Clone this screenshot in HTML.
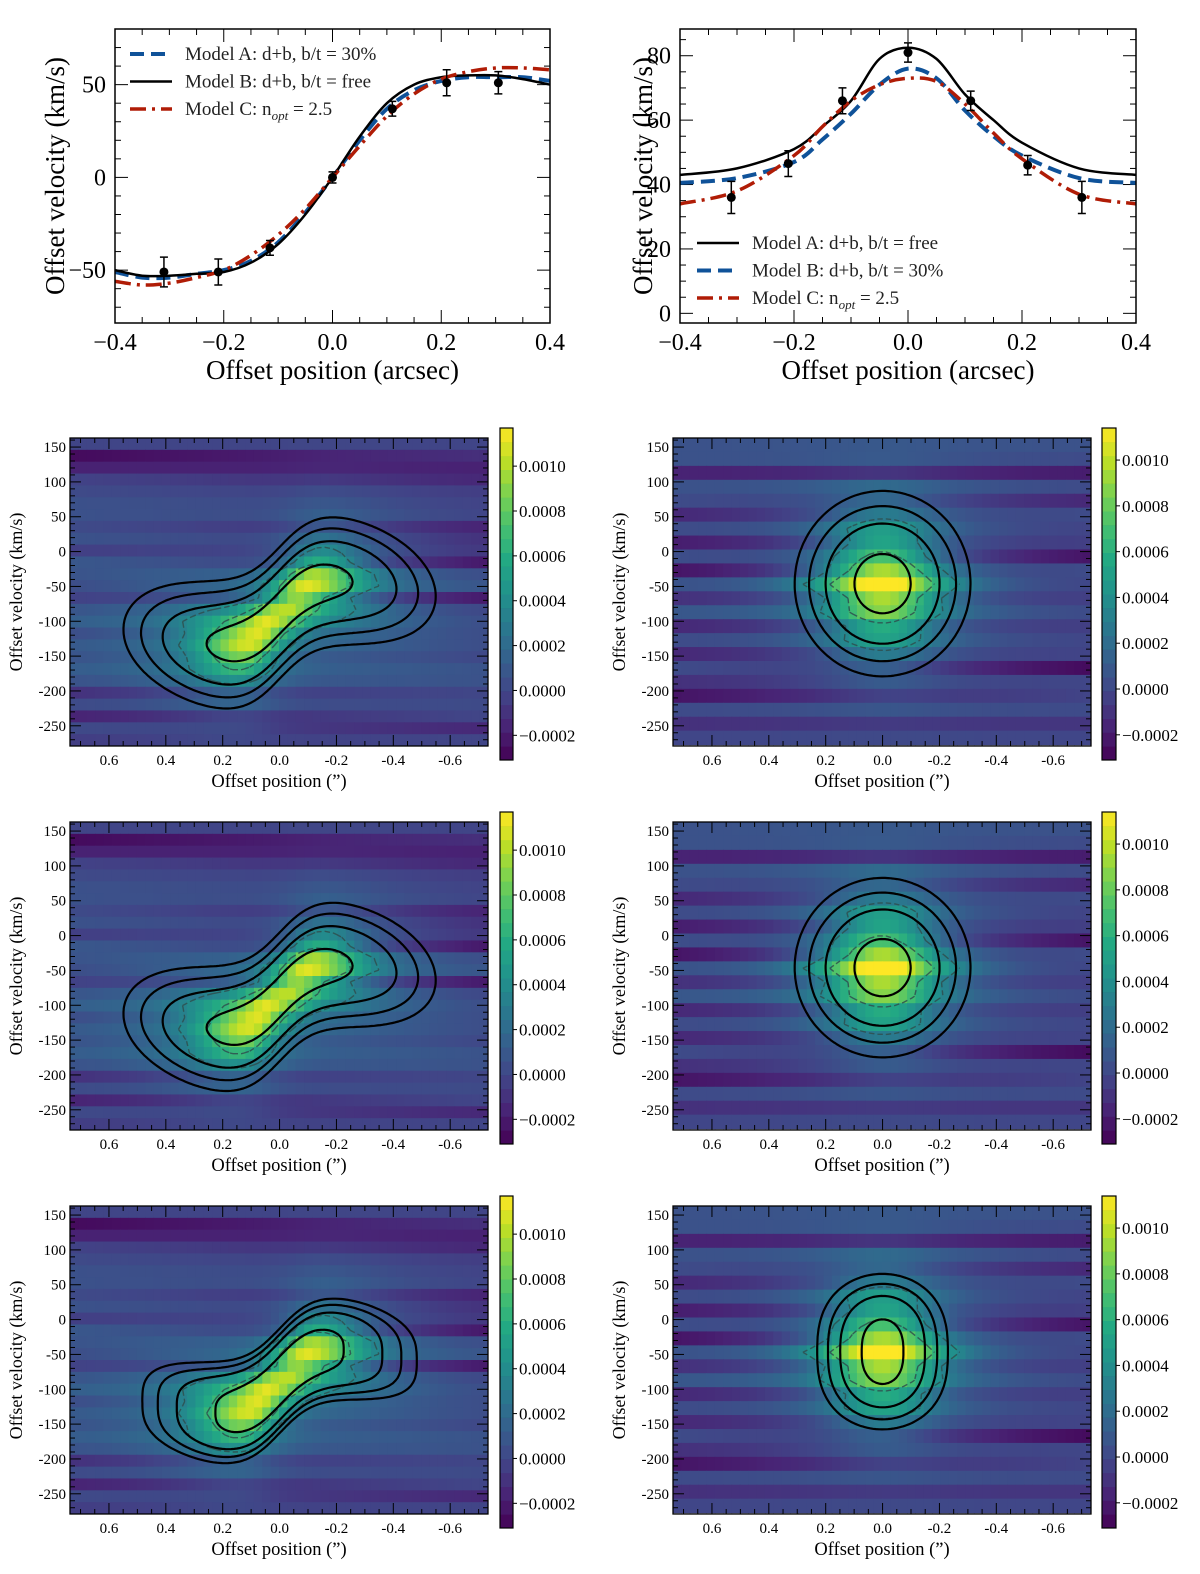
<!DOCTYPE html>
<html><head><meta charset="utf-8"><style>
html,body{margin:0;padding:0;background:#fff;}
svg{display:block;font-family:"Liberation Serif","DejaVu Serif",serif;}
</style></head><body>
<svg id="fig" width="1200" height="1574" viewBox="0 0 1200 1574" xmlns="http://www.w3.org/2000/svg"></svg>
<script>
// ---------- top-left rotation curve data ----------
const tlX = [-0.4,-0.35,-0.3,-0.25,-0.2,-0.15,-0.1,-0.05,0,0.05,0.1,0.15,0.2,0.25,0.3,0.35,0.4];
const tlModelA = [-51,-54,-54,-52,-50,-45,-35,-19,0,20,37,47,52,54,54,54,52];
const tlModelB = [-50,-53,-53,-52,-51,-46,-36,-20,0,22,40,50,54,55,55,53,50];
const tlModelC = [-56,-58,-57,-54,-50,-42,-31,-17,0,17,33,45,53,57,59,59,58];
const tlDataX = [-0.31,-0.21,-0.115,0,0.11,0.21,0.305];
const tlDataY = [-51,-51,-38,0,37,51,51];
const tlDataErr = [8,7,4,3,4,7,6];
const tlYTicks = [-50,0,50];
const tlXTicks = [-0.4,-0.2,0,0.2,0.4];
// ---------- top-right dispersion data ----------
const trX = [-0.4,-0.3,-0.2,-0.15,-0.1,-0.05,0,0.05,0.1,0.15,0.2,0.3,0.4];
const trModelA = [43,45,51,58,66,79,82.5,79,68,60,53,45,43];
const trModelB = [40.5,42,47,54,62,71,76,73,63,55,49,42,40.5];
const trModelC = [34,38,49,58,66,71,73,72,65,56,48,37,34];
const trDataX = [-0.31,-0.21,-0.115,0,0.11,0.21,0.305];
const trDataY = [36,46.5,66,81,66,46,36];
const trDataErr = [5,4,4,3,3,3,5];
const trYTicks = [0,20,40,60,80];
// ---------- PV diagram background per channel (1e-4 units), left edge / right edge ----------
const leftRowOffL = [0.3,-1.8,-1.0,0.2,0.5,0.8,0.8,0.5,0.8,0.0,1.0,0.8,0.5,0.0,0.8,1.2,0.5,1.0,0.8,1.2,0.8,-0.5,0.5,-1.0,0.5,0.0];
const leftRowOffR = [0.3,-0.5,-1.0,-0.8,0.0,0.2,0.3,-1.0,-0.5,-0.3,-1.5,0.5,0.8,-1.5,0.2,0.5,0.5,0.5,0.3,0.8,0.8,0.3,0.5,0.3,-0.8,0.3];
const rightRowOffL = [0.8,0.8,-1.0,0.8,0.5,-0.8,0.5,-1.2,0.6,-1.5,0.8,-0.5,1.0,-0.8,0.5,-0.8,0.5,-0.5,-1.5,0.5,-0.5,0.3];
const rightRowOffR = [0.8,0.5,-1.2,0.5,-0.8,0.5,0.2,0.0,-1.5,0.5,0.3,0.0,0.5,0.0,0.3,0.2,-1.8,0.3,0.2,0.5,-0.3,0.3];
const pvXTicks = [0.6,0.4,0.2,0.0,-0.2,-0.4,-0.6];
const pvYTicks = [150,100,50,0,-50,-100,-150,-200,-250];
const cbTicks = [-0.0002,0,0.0002,0.0004,0.0006,0.0008,0.0010];
const contourLevels = [0.1,0.2,0.38,0.79];
const dataLevels = [3.5,6.5];
// model params per row: [sx, sv, px, pv]
const leftModelParams = [[0.33,44,3,2],[0.33,43,3,2],[0.29,45,3,3]];
const rightModelParams = [[0.144,62,2,2],[0.144,60,2,2],[0.107,62,2,2.6]];

const NS='http://www.w3.org/2000/svg';
const svg=document.getElementById('fig');
function mk(tag,attrs,parent){const e=document.createElementNS(NS,tag);for(const k in attrs)e.setAttribute(k,attrs[k]);(parent||svg).appendChild(e);return e;}
function fmtMinus(s){return s.replace('-','\u2212');}

const VIR=['#440154','#482475','#414487','#355f8d','#2a788e','#21918c','#22a884','#44bf70','#7ad151','#bddf26','#fde725'];
function hex(h){return [parseInt(h.substr(1,2),16),parseInt(h.substr(3,2),16),parseInt(h.substr(5,2),16)];}
const VIRr=VIR.map(hex);
function viridis(t){t=Math.max(0,Math.min(1,t));const f=t*10,i=Math.min(9,Math.floor(f)),u=f-i;const a=VIRr[i],b=VIRr[i+1];return 'rgb('+a.map((v,k)=>Math.round(v+(b[k]-v)*u)).join(',')+')';}

// ---------- line panels ----------
function catmull(pts){let d='M'+pts[0][0].toFixed(1)+','+pts[0][1].toFixed(1);for(let i=0;i<pts.length-1;i++){const p0=pts[i-1]||pts[i],p1=pts[i],p2=pts[i+1],p3=pts[i+2]||p2;const c1=[p1[0]+(p2[0]-p0[0])/6,p1[1]+(p2[1]-p0[1])/6],c2=[p2[0]-(p3[0]-p1[0])/6,p2[1]-(p3[1]-p1[1])/6];d+='C'+c1.map(v=>v.toFixed(1))+' '+c2.map(v=>v.toFixed(1))+' '+p2.map(v=>v.toFixed(1));}return d;}
function linePanel(c){
  const g=mk('g',{});
  
  
  const sx=v=>c.x0+(v-c.xmin)/(c.xmax-c.xmin)*(c.x1-c.x0);
  const sy=v=>c.y1-(v-c.ymin)/(c.ymax-c.ymin)*(c.y1-c.y0);
  const cid='clip'+c.name;const cp=mk('clipPath',{id:cid},g);mk('rect',{x:c.x0,y:c.y0,width:c.x1-c.x0,height:c.y1-c.y0},cp);
  for(let v=c.xmin;v<=c.xmax+1e-9;v+=0.05){const X=sx(v);const maj=Math.abs(Math.round(v*5)-v*5)<1e-6;const L=maj?13:6;
    mk('line',{x1:X,y1:c.y1,x2:X,y2:c.y1-L,stroke:'#000','stroke-width':1},g);mk('line',{x1:X,y1:c.y0,x2:X,y2:c.y0+L,stroke:'#000','stroke-width':1},g);}
  for(let v=Math.ceil(c.ymin/c.ymin_minor)*c.ymin_minor;v<=c.ymax;v+=c.ymin_minor){const Y=sy(v);const maj=Math.abs(v%c.ymaj)<1e-6;const L=maj?13:6;
    mk('line',{x1:c.x0,y1:Y,x2:c.x0+L,y2:Y,stroke:'#000','stroke-width':1},g);mk('line',{x1:c.x1,y1:Y,x2:c.x1-L,y2:Y,stroke:'#000','stroke-width':1},g);}
  c.xticks.forEach(v=>{const t=mk('text',{x:sx(v),y:c.y1+27,'font-size':24,'text-anchor':'middle'},g);t.textContent=fmtMinus(v.toFixed(1));
    
    });
  c.yticks.forEach(v=>{const t=mk('text',{x:c.x0-9,y:sy(v)+8,'font-size':24,'text-anchor':'end'},g);t.textContent=fmtMinus(String(v));
    
    });
  const cg=mk('g',{'clip-path':'url(#'+cid+')'},g);
  c.series.forEach(s=>{const p=mk('path',{d:catmull(s.x.map((v,i)=>[sx(v),sy(s.y[i])])),fill:'none',stroke:s.color,'stroke-width':s.w,'stroke-dasharray':s.dash||'none'},cg);
    
    });
  c.dx.forEach((v,i)=>{const X=sx(v),Y=sy(c.dy[i]),e=c.de[i];
    const eb=mk('path',{d:`M${X},${sy(c.dy[i]-e)}V${sy(c.dy[i]+e)}M${X-4},${sy(c.dy[i]-e)}H${X+4}M${X-4},${sy(c.dy[i]+e)}H${X+4}`,stroke:'#000','stroke-width':1.5,fill:'none'},g);
    
    
    const pt=mk('circle',{cx:X,cy:Y,r:4.5,fill:'#000'},g);
    
    });
  mk('rect',{x:c.x0,y:c.y0,width:c.x1-c.x0,height:c.y1-c.y0,fill:'none',stroke:'#000','stroke-width':1.5},g);
  c.legend.forEach((l,i)=>{const Y=c.ly+i*27.5;const ln=mk('line',{x1:c.lx,y1:Y,x2:c.lx+42,y2:Y,stroke:l.color,'stroke-width':l.w,'stroke-dasharray':l.dash||'none'},g);
    
    
    const t=mk('text',{x:c.lx+55,y:Y+6,'font-size':19,fill:'#222'},g);t.innerHTML=l.label;
    
    });
  const xl=mk('text',{x:(c.x0+c.x1)/2,y:c.y1+56,'font-size':27,'text-anchor':'middle'},g);xl.textContent='Offset position (arcsec)';
  
  
  const yl=mk('text',{x:0,y:0,'font-size':27,'text-anchor':'middle',transform:`translate(${c.ylx},${(c.y0+c.y1)/2}) rotate(-90)`},g);yl.textContent='Offset velocity (km/s)';
  
  
}
const BLUE='#0f5299',RED='#b01c06';
const subOpt='n<tspan font-style="italic" font-size="13" dy="5">opt</tspan><tspan dy="-5"> = 2.5</tspan>';
linePanel({name:'rotation-curve-panel',x0:115,x1:550,y0:29,y1:323,xmin:-0.4,xmax:0.4,ymin:-78.5,ymax:80,ymaj:50,ymin_minor:10,xticks:tlXTicks,yticks:tlYTicks,ylx:64,
  series:[{name:'model-a-line',x:tlX,y:tlModelA,color:BLUE,w:4,dash:'14 7'},{name:'model-b-line',x:tlX,y:tlModelB,color:'#000',w:2.5},{name:'model-c-line',x:tlX,y:tlModelC,color:RED,w:3.5,dash:'16 6 3 6'}],
  dx:tlDataX,dy:tlDataY,de:tlDataErr,lx:130,ly:54,
  legend:[{label:'Model A: d+b, b/t = 30%',color:BLUE,w:4,dash:'14 7'},{label:'Model B: d+b, b/t = free',color:'#000',w:2.5},{label:'Model C: '+subOpt,color:RED,w:3.5,dash:'16 6 3 6'}]});
linePanel({name:'dispersion-panel',x0:680,x1:1136,y0:29,y1:323,xmin:-0.4,xmax:0.4,ymin:-3,ymax:88.3,ymaj:20,ymin_minor:5,xticks:tlXTicks,yticks:trYTicks,ylx:652,
  series:[{name:'model-a-line',x:trX,y:trModelA,color:'#000',w:2.5},{name:'model-b-line',x:trX,y:trModelB,color:BLUE,w:4,dash:'14 7'},{name:'model-c-line',x:trX,y:trModelC,color:RED,w:3.5,dash:'16 6 3 6'}],
  dx:trDataX,dy:trDataY,de:trDataErr,lx:697,ly:243,
  legend:[{label:'Model A: d+b, b/t = free',color:'#000',w:2.5},{label:'Model B: d+b, b/t = 30%',color:BLUE,w:4,dash:'14 7'},{label:'Model C: '+subOpt,color:RED,w:3.5,dash:'16 6 3 6'}]});

// ---------- PV panels ----------
function contourPath(xs,ys,F,L){let d='';const ny=ys.length,nx=xs.length;
  for(let j=0;j<ny-1;j++)for(let i=0;i<nx-1;i++){const a=F[j][i],b=F[j][i+1],c=F[j+1][i+1],e=F[j+1][i];
    const idx=(a>L?8:0)|(b>L?4:0)|(c>L?2:0)|(e>L?1:0);if(idx===0||idx===15)continue;
    const T=[xs[i]+(L-a)/(b-a)*(xs[i+1]-xs[i]),ys[j]],R=[xs[i+1],ys[j]+(L-b)/(c-b)*(ys[j+1]-ys[j])],
      B=[xs[i]+(L-e)/(c-e)*(xs[i+1]-xs[i]),ys[j+1]],Lf=[xs[i],ys[j]+(L-a)/(e-a)*(ys[j+1]-ys[j])];
    const tab={1:[[Lf,B]],2:[[B,R]],3:[[Lf,R]],4:[[T,R]],5:[[Lf,T],[B,R]],6:[[T,B]],7:[[Lf,T]],8:[[Lf,T]],9:[[T,B]],10:[[T,R],[Lf,B]],11:[[T,R]],12:[[Lf,R]],13:[[B,R]],14:[[Lf,B]]};
    tab[idx].forEach(s=>{d+='M'+s[0][0].toFixed(1)+','+s[0][1].toFixed(1)+'L'+s[1][0].toFixed(1)+','+s[1][1].toFixed(1);});}
  return d;}
const BG_BIAS=-0.45, BG_SCALE=1.25;
function leftVc(x){return -88-55*Math.tanh(x/0.13)*Math.exp(-Math.pow(x/0.6,2));}
function leftData(x,v){const vc=leftVc(x);const w=0.72+0.28*Math.abs(Math.tanh(x/0.1));
  return 9*w*Math.exp(-0.5*Math.pow(Math.abs(x/0.2),2.5))*Math.exp(-0.5*Math.pow((v-vc)/32,2))+3.2*Math.exp(-0.5*Math.pow(x/0.33,2))*Math.exp(-0.5*Math.pow((v-vc)/70,2));}
function rightData(x,v){let r=6.5*Math.exp(-0.5*Math.pow(x/0.12,2))*Math.exp(-0.5*Math.pow((v+50)/65,2));
  r+=3*Math.exp(-0.5*Math.pow(x/0.25,2))*Math.exp(-0.5*Math.pow((v+45)/90,2));
  r+=3*Math.exp(-0.5*Math.pow(x/0.2,2))*Math.exp(-0.5*Math.pow((v+45)/16,2));return r;}
function leftModel(p){return (x,v)=>{const vc=leftVc(x);return Math.exp(-0.5*Math.pow(Math.abs(x/p[0]),p[2]))*Math.exp(-0.5*Math.pow(Math.abs((v-vc)/p[1]),p[3]));};}
function rightModel(p){return (x,v)=>Math.exp(-0.5*Math.pow(Math.abs(x/p[0]),p[2]))*Math.exp(-0.5*Math.pow(Math.abs((v+46)/p[1]),p[3]));}

function pvPanel(name,x0,y0,side,row){
  const x1=x0+418,y1=y0+308,xmin=0.737,xmax=-0.733,vmax=163,vmin=-279;
  const sx=v=>x0+(xmin-v)/(xmin-xmax)*(x1-x0), sy=v=>y0+(vmax-v)/(vmax-vmin)*(y1-y0);
  const g=mk('g',{});
  
  
  const cid='clip-'+name;const cp=mk('clipPath',{id:cid},g);mk('rect',{x:x0,y:y0,width:418,height:308},cp);
  const hg=mk('g',{'clip-path':'url(#'+cid+')'},g);
  
  
  const offL=side==='left'?leftRowOffL:rightRowOffL, offR=side==='left'?leftRowOffR:rightRowOffR;
  const chw=side==='left'?17:20, nrow=offL.length, ncol=50, cw=(xmin-xmax)/ncol;
  const cmin=-3.1,cmax=side==='left'?11.7:11.4;
  const dataF=side==='left'?leftData:rightData;
  const val=(x,v,r)=>{const t=(xmin-x)/(xmin-xmax);return dataF(x,v)+BG_BIAS+BG_SCALE*(offL[r]*(1-t)+offR[r]*t);};
  const Fd=[],dxs=[],dys=[];
  for(let c=0;c<ncol;c++)dxs.push(sx(xmin-(c+0.5)*cw));
  for(let r=0;r<nrow;r++){const vt=vmax-r*chw,vc=vt-chw/2;dys.push(sy(vc));const rowv=[];
    for(let c=0;c<ncol;c++){const xc=xmin-(c+0.5)*cw;const v=val(xc,vc,r);rowv.push(v);
      const cell=mk('rect',{x:sx(xmin-c*cw).toFixed(2),y:sy(vt).toFixed(2),width:(Math.abs(sx(cw)-sx(0))+0.6).toFixed(2),height:(sy(vt-chw)-sy(vt)+0.6).toFixed(2),fill:viridis((v-cmin)/(cmax-cmin))},hg);
      
      }
    Fd.push(rowv);}
  dataLevels.forEach(L=>{const p=mk('path',{d:contourPath(dxs,dys,Fd,L),fill:'none',stroke:'#2f4f4f','stroke-opacity':0.85,'stroke-width':1.4,'stroke-dasharray':'5 3'},hg);
    
    });
  const mf=side==='left'?leftModel(leftModelParams[row]):rightModel(rightModelParams[row]);
  const mx=[],my=[],Fm=[];
  for(let i=0;i<=140;i++)mx.push(x0+i*418/140);
  for(let j=0;j<=120;j++)my.push(y0+j*308/120);
  my.forEach(Y=>{const v=vmax-(Y-y0)/(y1-y0)*(vmax-vmin);Fm.push(mx.map(X=>mf(xmin-(X-x0)/(x1-x0)*(xmin-xmax),v)));});
  contourLevels.forEach(L=>{const p=mk('path',{d:contourPath(mx,my,Fm,L),fill:'none',stroke:'#000','stroke-width':2.2,'stroke-linecap':'round'},hg);
    
    });
  for(let k=-14;k<=14;k++){const v=k*0.05;if(v>xmin||v<xmax)continue;const X=sx(v);const L=(k%4===0)?11:5;
    mk('line',{x1:X,y1:y1,x2:X,y2:y1-L,stroke:'#000','stroke-width':1},g);mk('line',{x1:X,y1:y0,x2:X,y2:y0+L,stroke:'#000','stroke-width':1},g);}
  for(let v=-270;v<=160;v+=10){const Y=sy(v);const L=(v%50===0)?11:5;
    mk('line',{x1:x0,y1:Y,x2:x0+L,y2:Y,stroke:'#000','stroke-width':1},g);mk('line',{x1:x1,y1:Y,x2:x1-L,y2:Y,stroke:'#000','stroke-width':1},g);}
  pvXTicks.forEach(v=>{const t=mk('text',{x:sx(v),y:y1+19,'font-size':15,'text-anchor':'middle'},g);t.textContent=v.toFixed(1);
    
    });
  pvYTicks.forEach(v=>{const t=mk('text',{x:x0-4,y:sy(v)+5,'font-size':15,'text-anchor':'end'},g);t.textContent=String(v);
    
    });
  mk('rect',{x:x0,y:y0,width:418,height:308,fill:'none',stroke:'#000','stroke-width':1.3},g);
  const xl=mk('text',{x:(x0+x1)/2,y:y1+41,'font-size':18.5,'text-anchor':'middle'},g);xl.textContent='Offset position (\u201d)';
  
  
  const yl=mk('text',{x:0,y:0,'font-size':18,'text-anchor':'middle',transform:`translate(${x0-48},${(y0+y1)/2}) rotate(-90)`},g);yl.textContent='Offset velocity (km/s)';
  
  
  const cbx=side==='left'?500:1102,cbw=side==='left'?13:14,cbt=y0-10,cbb=y0+322;
  const cb=mk('g',{},g);
  
  
  const nseg=24;for(let s=0;s<nseg;s++){const yA=cbb-(s+1)*(cbb-cbt)/nseg;mk('rect',{x:cbx,y:yA,width:cbw,height:(cbb-cbt)/nseg+0.5,fill:viridis((s+0.5)/nseg)},cb);
    mk('line',{x1:cbx,y1:yA,x2:cbx+cbw,y2:yA,stroke:'rgba(0,0,0,0.35)','stroke-width':0.7},cb);}
  mk('rect',{x:cbx,y:cbt,width:cbw,height:cbb-cbt,fill:'none',stroke:'#000','stroke-width':1.2},cb);
  const cy=v=>cbb-(v*1e4-cmin)/(cmax-cmin)*(cbb-cbt);
  cbTicks.forEach(v=>{const Y=cy(v);mk('line',{x1:cbx+cbw,y1:Y,x2:cbx+cbw+4,y2:Y,stroke:'#000'},cb);
    const t=mk('text',{x:cbx+cbw+6,y:Y+6,'font-size':17},cb);t.textContent=(v<0?'\u2212':'')+Math.abs(v).toFixed(4);
    
    });
}
for(let r=0;r<3;r++){pvPanel('pv-left-row'+(r+1),70,438+r*384,'left',r);pvPanel('pv-right-row'+(r+1),673,438+r*384,'right',r);}
</script>
</body></html>
